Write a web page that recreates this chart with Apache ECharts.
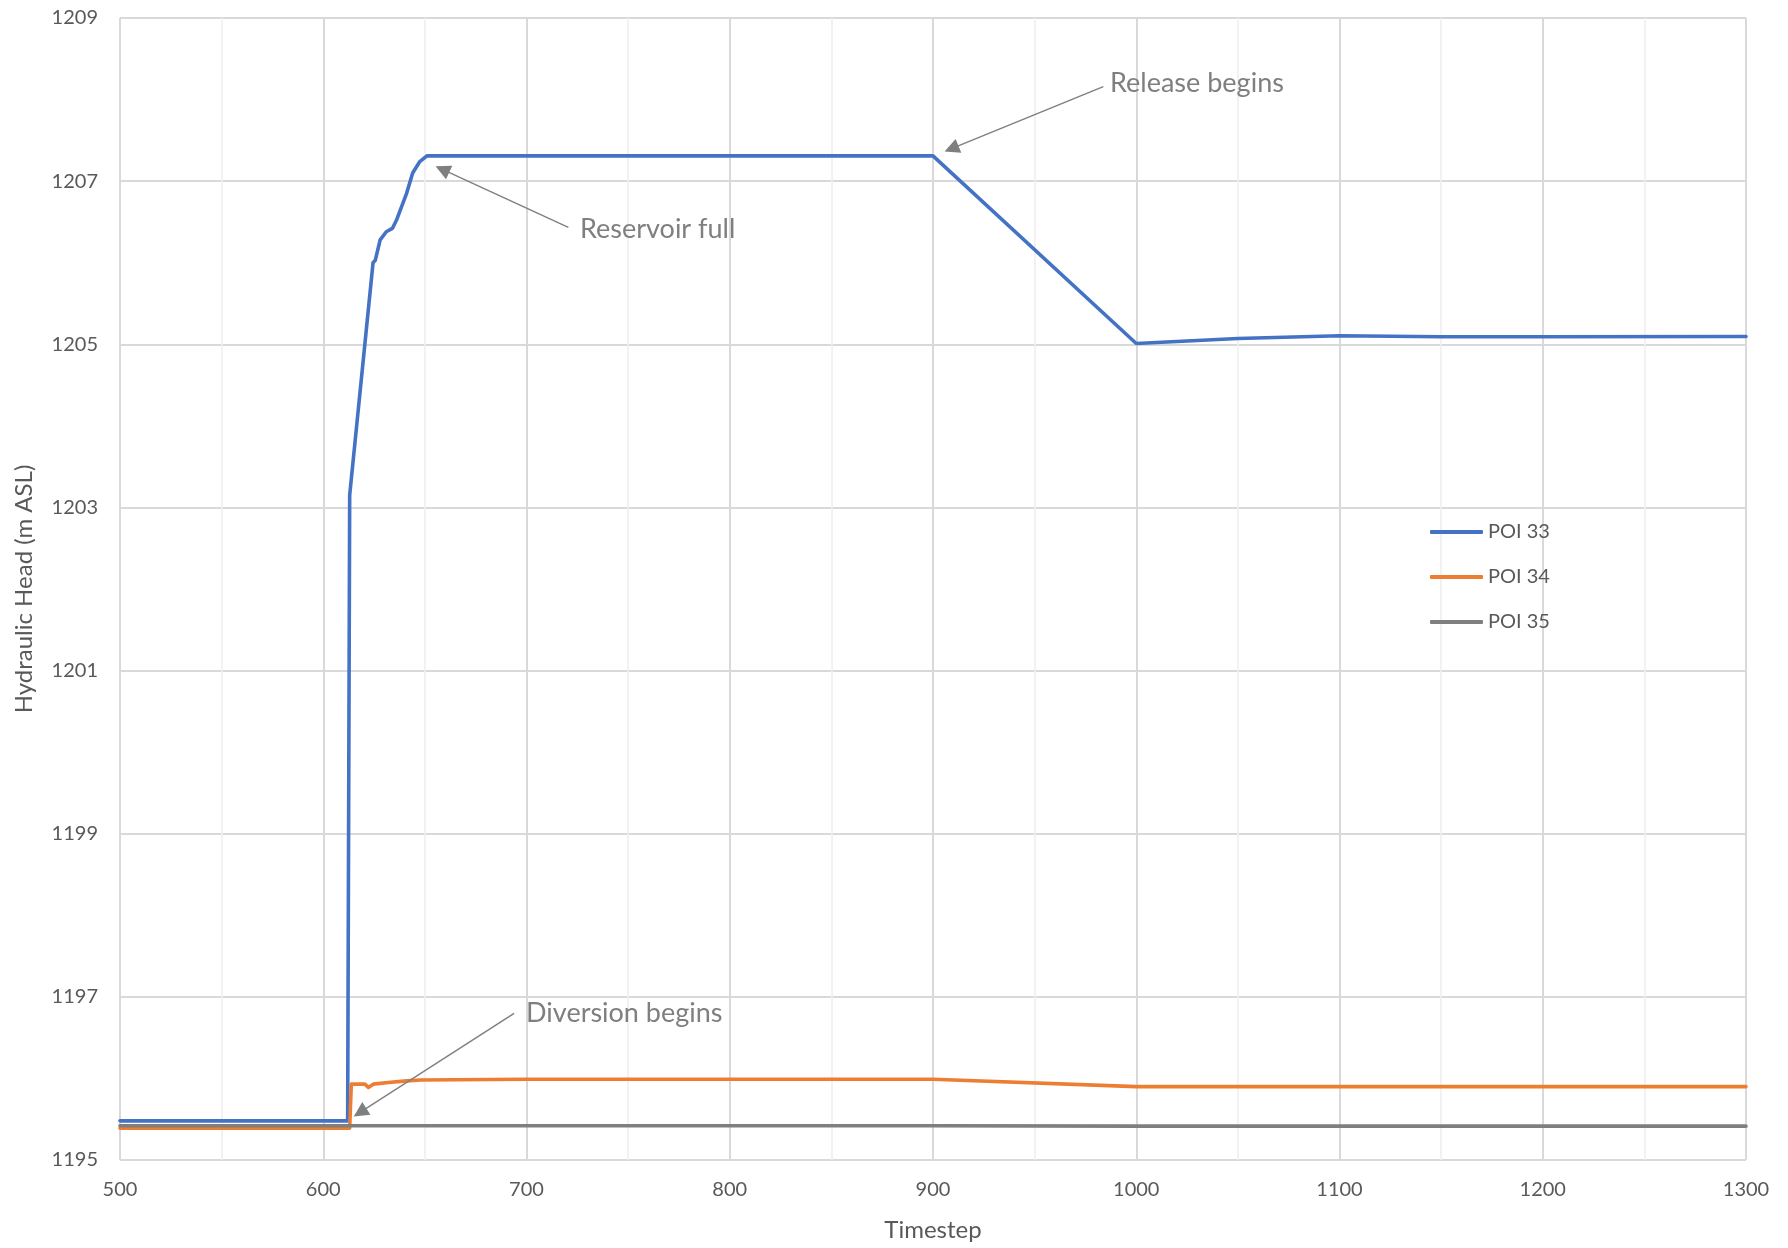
<!DOCTYPE html>
<html>
<head>
<meta charset="utf-8">
<script src="https://cdn.jsdelivr.net/npm/echarts@6/dist/echarts.min.js"></script>
<style>
html,body{margin:0;padding:0;background:#fff;}
#chart{width:1788px;height:1248px;}
</style>
</head>
<body>
<div id="chart"></div>
<script>
// ---- Data ----
const seriesNames = ['POI 33', 'POI 34', 'POI 35'];
const xTicks = [500, 600, 700, 800, 900, 1000, 1100, 1200, 1300];
const yTicks = [1195, 1197, 1199, 1201, 1203, 1205, 1207, 1209];

const poi33 = [
  [500, 1195.48], [612, 1195.48], [613, 1203.15], [624.5, 1206.0], [625.6, 1206.03],
  [628, 1206.28], [631, 1206.38], [634, 1206.42], [636, 1206.52], [641, 1206.85],
  [644, 1207.1], [647.5, 1207.24], [651, 1207.31], [900, 1207.31], [1000, 1205.01],
  [1050, 1205.07], [1100, 1205.105], [1150, 1205.093], [1200, 1205.093], [1300, 1205.095]
];
const poi34 = [
  [500, 1195.39], [613, 1195.39], [613.8, 1195.93], [620.5, 1195.93], [622.2, 1195.89],
  [624.6, 1195.93], [632, 1195.95], [641, 1195.97], [648, 1195.98], [700, 1195.99],
  [900, 1195.99], [1000, 1195.9], [1300, 1195.9]
];
const poi35 = [
  [500, 1195.42], [613, 1195.42], [900, 1195.42], [1000, 1195.415], [1300, 1195.415]
];

// annotation arrows: [start (text side), tip] in data coordinates
const annotationTexts = ['Release begins', 'Reservoir full', 'Diversion begins'];
const annotationTextPos = [[987.1, 1208.2], [726.3, 1206.41], [699.8, 1196.8]];
const arrowStart = [[983.8, 1208.158], [720.6, 1206.434], [693.9, 1196.798]];
const arrowTip = [[909.1, 1207.398], [658.6, 1207.145], [618.1, 1195.583]];

const colors = ['#4472C4', '#ED7D31', '#7F7F7F'];
const FONT = 'Lato';

const chart = echarts.init(document.getElementById('chart'), null, {renderer: 'canvas'});

const lineSeries = [poi33, poi34, poi35].map((d, i) => ({
  name: seriesNames[i],
  type: 'line',
  data: d,
  symbol: 'none',
  showSymbol: false,
  smooth: false,
  lineStyle: {width: 3.6, color: colors[i], cap: 'round', join: 'round'},
  itemStyle: {color: colors[i]},
  z: 3 + i
}));

lineSeries.push({
  name: 'annotations',
  type: 'line',
  data: [],
  symbol: 'none',
  z: 10,
  markLine: {
    silent: true,
    animation: false,
    symbol: ['none', 'triangle'],
    symbolSize: 15,
    lineStyle: {color: '#7F7F7F', width: 1.4, type: 'solid'},
    label: {show: false},
    data: arrowStart.map((s, i) => [{coord: s}, {coord: arrowTip[i]}])
  },
  markPoint: {
    silent: true,
    animation: false,
    symbol: 'circle',
    symbolSize: 0,
    itemStyle: {color: 'transparent'},
    label: {
      show: true,
      position: 'right',
      distance: 0,
      formatter: p => p.name,
      fontFamily: FONT,
      fontSize: 27,
      color: '#7F7F7F'
    },
    data: annotationTexts.map((t, i) => ({name: t, coord: annotationTextPos[i]}))
  }
});

const option = {
  animation: false,
  backgroundColor: '#ffffff',
  color: colors,
  textStyle: {fontFamily: FONT},
  grid: {left: 120, right: 42, top: 18, bottom: 88, containLabel: false},
  legend: {
    data: seriesNames.map(n => ({name: n, icon: 'roundRect'})),
    orient: 'vertical',
    left: 1425,
    top: 517,
    itemWidth: 53,
    itemHeight: 4,
    itemGap: 25,
    textStyle: {fontFamily: FONT, fontSize: 20, color: '#595959', lineHeight: 20}
  },
  xAxis: {
    type: 'value',
    min: xTicks[0],
    max: xTicks[xTicks.length - 1],
    interval: 100,
    name: 'Timestep',
    nameLocation: 'middle',
    nameGap: 58,
    nameTextStyle: {fontFamily: FONT, fontSize: 24, color: '#595959'},
    axisLine: {show: false},
    axisTick: {show: false},
    axisLabel: {margin: 20, fontFamily: FONT, fontSize: 20, color: '#595959', formatter: v => String(v)},
    splitLine: {show: true, lineStyle: {color: '#D9D9D9', width: 2}},
    minorTick: {show: false, splitNumber: 2},
    minorSplitLine: {show: true, lineStyle: {color: '#EFEFEF', width: 1.6}}
  },
  yAxis: {
    type: 'value',
    min: yTicks[0],
    max: yTicks[yTicks.length - 1],
    interval: 2,
    name: 'Hydraulic Head (m ASL)',
    nameLocation: 'middle',
    nameRotate: 90,
    nameGap: 84,
    nameTextStyle: {fontFamily: FONT, fontSize: 24, color: '#595959'},
    axisLine: {show: false},
    axisTick: {show: false},
    axisLabel: {margin: 22, fontFamily: FONT, fontSize: 20, color: '#595959', formatter: v => String(v)},
    splitLine: {show: true, lineStyle: {color: '#D9D9D9', width: 2}}
  },
  series: lineSeries
};

chart.setOption(option);
</script>
</body>
</html>
